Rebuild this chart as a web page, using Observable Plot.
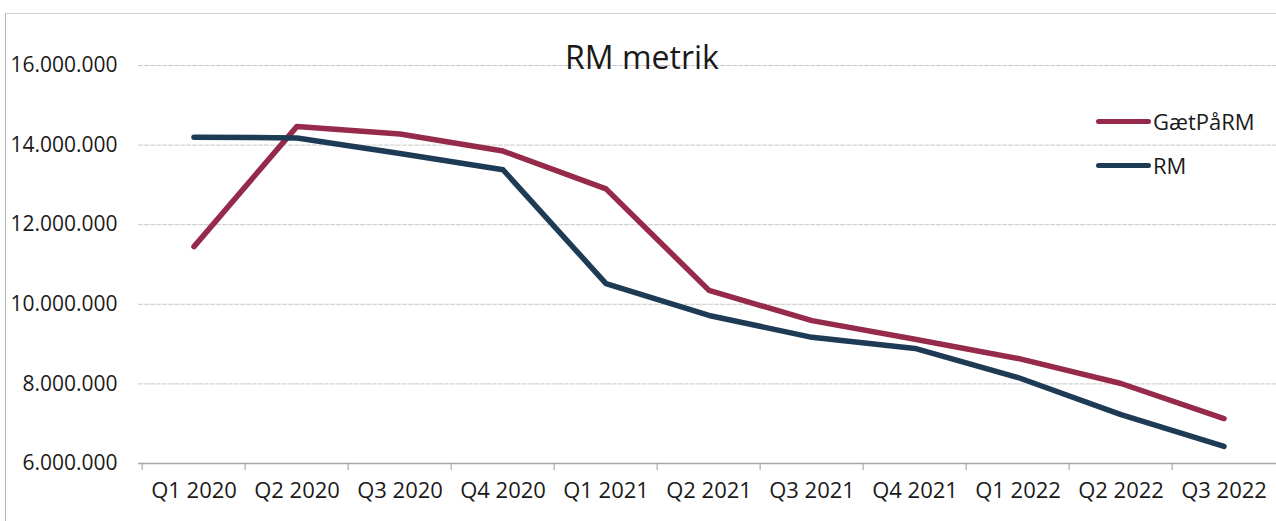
<!DOCTYPE html>
<html>
<head>
<meta charset="utf-8">
<script src="https://cdn.jsdelivr.net/npm/d3@7"></script>
<script src="https://cdn.jsdelivr.net/npm/@observablehq/plot@0.6"></script>
<style>
  html, body { margin: 0; padding: 0; background: #fff; }
  #wrap { position: relative; width: 1276px; height: 521px; overflow: hidden; font-family: "Open Sans", sans-serif; }
  #border { position: absolute; left: 5px; top: 13px; width: 1400px; height: 600px; border-left: 1.5px solid #b4b4b4; border-top: 1.5px solid #cfcfcf; }
  #title { position: absolute; left: 0; width: 1276px; top: 36px; text-align: center; font-size: 32px; color: #1a1a1a; line-height: 42px; padding-left: 8px; box-sizing: border-box; }
  .leg { position: absolute; left: 1096px; font-size: 22px; color: #1a1a1a; display: flex; align-items: center; line-height: 28px; }
  .leg span.sw { display: inline-block; width: 55px; height: 5px; border-radius: 3px; margin-right: 2px; }
  svg { position: absolute; left: 0; top: 0; }
</style>
</head>
<body>
<div id="wrap">
  <div id="border"></div>
  <div id="chart"></div>
  <div id="title">RM metrik</div>
  <div id="legend"></div>
</div>
<script>
const quarters = ["Q1 2020","Q2 2020","Q3 2020","Q4 2020","Q1 2021","Q2 2021","Q3 2021","Q4 2021","Q1 2022","Q2 2022","Q3 2022"];
const gaetPaaRM = [11450000,14470000,14280000,13850000,12900000,10350000,9590000,9120000,8640000,8010000,7130000];
const rm = [14200000,14180000,13790000,13380000,10520000,9720000,9170000,8890000,8160000,7230000,6430000];
const seriesNames = ["GætPåRM","RM"];
const seriesColors = ["#962a4b","#1e3b55"];
const yTicks = [6000000,8000000,10000000,12000000,14000000,16000000];

const rows = [];
quarters.forEach((q, i) => {
  rows.push({quarter: q, value: gaetPaaRM[i], series: seriesNames[0]});
  rows.push({quarter: q, value: rm[i], series: seriesNames[1]});
});

const fmt = d3.formatLocale({decimal: ",", thousands: ".", grouping: [3], currency: ["", ""]}).format(",");

const W = 1276, H = 521, ML = 138, MR = -3, MT = 65, MB = 58;
const bw = (W - ML - MR) / quarters.length;

const chart = Plot.plot({
  width: W, height: H,
  marginLeft: ML, marginRight: MR, marginTop: MT, marginBottom: MB,
  style: {fontFamily: "Open Sans, sans-serif", background: "transparent", overflow: "visible"},
  x: {type: "band", domain: quarters, padding: 0, label: null},
  y: {domain: [6000000, 16000000], label: null},
  color: {domain: seriesNames, range: seriesColors},
  marks: [
    Plot.ruleY(yTicks.slice(1), {stroke: "#c9c9c9", strokeWidth: 1, strokeDasharray: "5,1"}),
    Plot.ruleY([6000000], {stroke: "#a8a8a8", strokeWidth: 1.5}),
    Plot.axisY({ticks: yTicks, tickSize: 0, tickPadding: 21, tickFormat: fmt, fontSize: 21, fill: "#1a1a1a", label: null}),
    Plot.axisX({tickSize: 7, tickFormat: () => "", stroke: "#999", dx: -bw / 2, label: null}),
    Plot.axisX({tickSize: 0, tickPadding: 19, fontSize: 22, fill: "#1a1a1a", label: null}),
    Plot.line(rows, {x: "quarter", y: "value", z: "series", stroke: "series", strokeWidth: 5.5, strokeLinecap: "round", strokeLinejoin: "round", curve: "linear"})
  ]
});
document.getElementById("chart").appendChild(chart);

const leg = document.getElementById("legend");
const legTops = [107, 151];
seriesNames.forEach((n, i) => {
  const d = document.createElement("div");
  d.className = "leg";
  d.style.top = legTops[i] + "px";
  d.innerHTML = `<span class="sw" style="background:${seriesColors[i]}"></span>${n}`;
  leg.appendChild(d);
});
</script>
</body>
</html>
